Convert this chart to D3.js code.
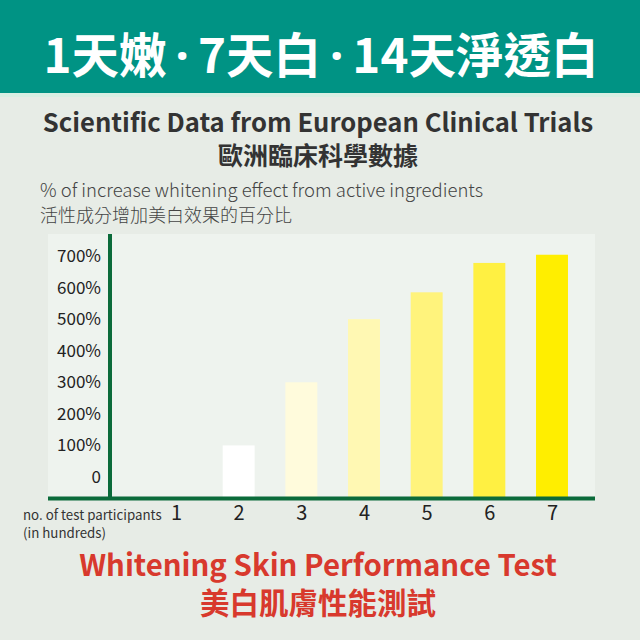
<!DOCTYPE html>
<html>
<head>
<meta charset="utf-8">
<script src="https://cdn.jsdelivr.net/npm/d3@7/dist/d3.min.js"></script>
<style>
  html, body { margin: 0; padding: 0; background: #e7ece6; }
  svg { display: block; }
  text { font-family: "Noto Sans CJK TC", "Noto Sans", sans-serif; }
</style>
</head>
<body>
<svg id="chart" width="640" height="640"></svg>
<script>
// ---- data ----
const categories = ["1", "2", "3", "4", "5", "6", "7"];
const values = [0, 100, 300, 500, 585, 678, 704];
const barColors = ["#ffffff", "#ffffff", "#fffbdc", "#fff8b3", "#fff37c", "#fff042", "#ffee00"];
const yTicks = [0, 100, 200, 300, 400, 500, 600, 700];
const yTickLabels = ["0", "100%", "200%", "300%", "400%", "500%", "600%", "700%"];
const titleParts = ["1天嫩", "·", "7天白", "·", "14天淨透白"];
const subtitleEn = "Scientific Data from European Clinical Trials";
const subtitleZh = "歐洲臨床科學數據";
const yLabelEn = "% of increase whitening effect from active ingredients";
const yLabelZh = "活性成分增加美白效果的百分比";
const xLabel1 = "no. of test participants";
const xLabel2 = "(in hundreds)";
const footEn = "Whitening Skin Performance Test";
const footZh = "美白肌膚性能測試";

// ---- layout ----
const svg = d3.select("#chart");
const W = 640;
const axisGreen = "#0b6b3a";

// background
svg.append("rect").attr("x", 0).attr("y", 0).attr("width", W).attr("height", 640).attr("fill", "#e7ece6");
// header band
svg.append("rect").attr("x", 0).attr("y", 0).attr("width", W).attr("height", 93).attr("fill", "#009384");
svg.append("rect").attr("x", 0).attr("y", 93).attr("width", W).attr("height", 4).attr("fill", "#d8efe3");

const title = svg.append("text").attr("x", 321).attr("y", 73).attr("text-anchor", "middle")
  .attr("fill", "#ffffff").attr("font-size", 47.5).attr("font-weight", 700);
titleParts.forEach((p, i) => {
  const t = title.append("tspan").text(p);
  if (p === "·") t.style("font-family", '"Noto Sans", "DejaVu Sans", sans-serif').attr("dx", 9).attr("font-weight", 700);
  else if (i > 0) t.attr("dx", 9);
});

svg.append("text").attr("x", 318).attr("y", 132).attr("text-anchor", "middle")
  .attr("fill", "#333333").attr("font-size", 25.6).attr("font-weight", 700)
  .text(subtitleEn);
svg.append("text").attr("x", 318).attr("y", 165).attr("text-anchor", "middle")
  .attr("fill", "#333333").attr("font-size", 25).attr("font-weight", 700)
  .text(subtitleZh);

svg.append("text").attr("x", 40).attr("y", 197)
  .attr("fill", "#444444").attr("font-size", 18.5).attr("font-weight", 300)
  .text(yLabelEn);
svg.append("text").attr("x", 40).attr("y", 222)
  .attr("fill", "#444444").attr("font-size", 18).attr("font-weight", 300)
  .text(yLabelZh);

// plot panel
const panel = { left: 48, right: 595, top: 234, bottom: 498 };
svg.append("rect").attr("x", panel.left).attr("y", panel.top)
  .attr("width", panel.right - panel.left).attr("height", panel.bottom - panel.top)
  .attr("fill", "#eef3ee");

// scales
const y = d3.scaleLinear().domain([0, 700]).range([477, 256]);
const x = d3.scalePoint().domain(categories).range([176, 552]);
const barW = x.step() * 0.51;

// bars
svg.append("g").selectAll("rect").data(categories.map((c, i) => ({ c, v: values[i], col: barColors[i] })))
  .join("rect")
  .attr("x", d => x(d.c) - barW / 2)
  .attr("width", barW)
  .attr("y", d => d.v > 0 ? y(d.v) : panel.bottom)
  .attr("height", d => d.v > 0 ? panel.bottom - y(d.v) : 0)
  .attr("fill", d => d.col);

// y axis labels
const yAxis = d3.axisLeft(y).tickValues(yTicks).tickSize(0).tickPadding(0)
  .tickFormat((d, i) => yTickLabels[i]);
const gy = svg.append("g").attr("transform", "translate(101,0)").call(yAxis);
gy.select(".domain").remove();
gy.selectAll("text").attr("fill", "#222222").attr("font-size", 17)
  .style("font-family", '"Noto Sans CJK TC", sans-serif').attr("font-weight", 400);

// axis lines
svg.append("line").attr("x1", 110).attr("x2", 110).attr("y1", panel.top).attr("y2", panel.bottom)
  .attr("stroke", axisGreen).attr("stroke-width", 4);
svg.append("line").attr("x1", panel.left).attr("x2", panel.right).attr("y1", 498.5).attr("y2", 498.5)
  .attr("stroke", axisGreen).attr("stroke-width", 4);

// x axis labels
const xAxis = d3.axisBottom(x).tickSize(0).tickPadding(0);
const gx = svg.append("g").attr("transform", "translate(0,506)").call(xAxis);
gx.select(".domain").remove();
gx.selectAll("text").attr("fill", "#222222").attr("font-size", 20)
  .style("font-family", '"Noto Sans CJK TC", sans-serif').attr("font-weight", 400);

svg.append("text").attr("x", 23).attr("y", 520)
  .attr("fill", "#333333").attr("font-size", 13.3).attr("font-weight", 400)
  .text(xLabel1);
svg.append("text").attr("x", 23).attr("y", 538)
  .attr("fill", "#333333").attr("font-size", 13.3).attr("font-weight", 400)
  .text(xLabel2);

// footer titles
svg.append("text").attr("x", 318).attr("y", 576).attr("text-anchor", "middle")
  .attr("fill", "#d8392d").attr("font-size", 29.4).attr("font-weight", 700)
  .text(footEn);
svg.append("text").attr("x", 318).attr("y", 614).attr("text-anchor", "middle")
  .attr("fill", "#d8392d").attr("font-size", 29.5).attr("font-weight", 700)
  .text(footZh);
</script>
</body>
</html>
